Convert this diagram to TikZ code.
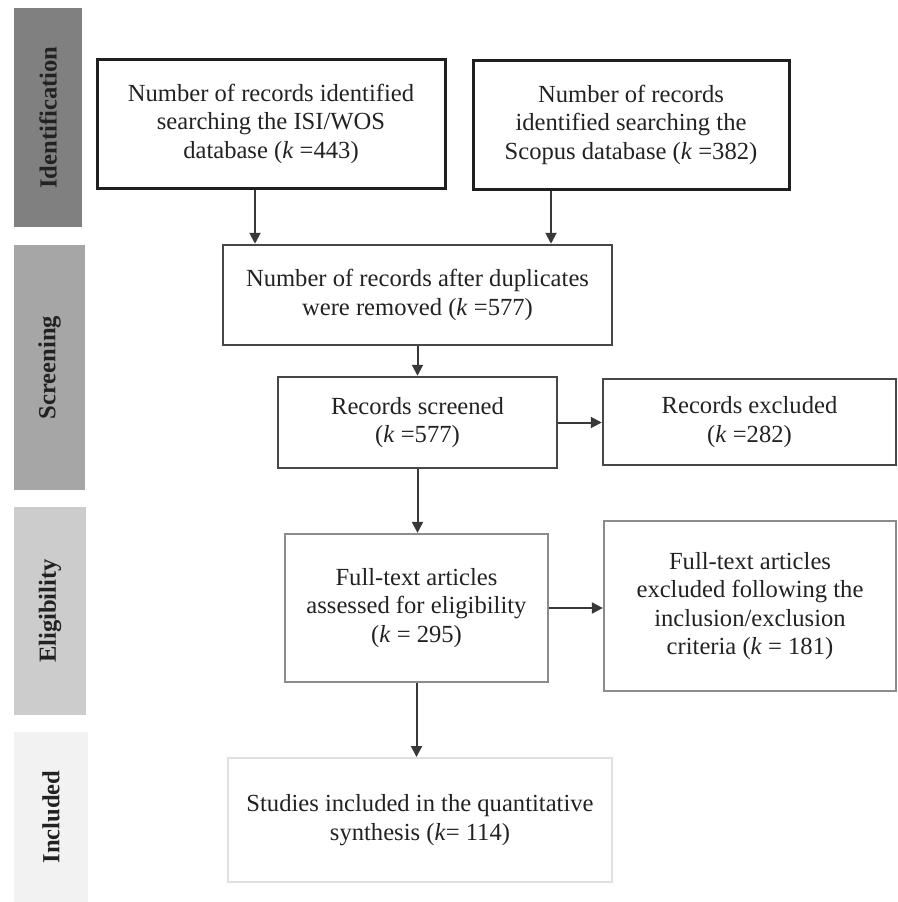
\documentclass[tikz,border=0pt]{standalone}
\usepackage{fontspec}
\setmainfont{Liberation Serif}
\usetikzlibrary{arrows.meta}
\definecolor{phaseone}{RGB}{128,128,128}
\definecolor{phasetwo}{RGB}{166,166,166}
\definecolor{phasethree}{RGB}{204,204,204}
\definecolor{phasefour}{RGB}{242,242,242}
\definecolor{inkdark}{RGB}{34,34,34}

\begin{document}
\begin{tikzpicture}[every node/.style={font=\fontsize{14}{16.2}\selectfont, text=inkdark},
    box/.style={draw, rectangle, align=center, inner sep=2pt},
    arr/.style={-{Triangle[length=0.22cm,width=0.22cm]}, line width=0.04cm, draw=black!78}]
                \useasboundingbox (0,0) rectangle (17.96,-18.04);

                % Phase bars on the left
                \foreach \i/\y/\h/\w/\col/\phase in {1/-2.35/4.38/1.36/phaseone/Identification, 2/-7.35/4.9/1.42/phasetwo/Screening, 3/-12.22/4.16/1.44/phasethree/Eligibility, 4/-16.34/3.4/1.48/phasefour/Included} {
                    \node[fill=\col, rotate=90, minimum width=\h cm, minimum height=\w cm, inner sep=0pt, font=\fontsize{14}{16}\selectfont\bfseries] (bar\i) at (0.28+\w/2, \y) {\phase};
                }

                % Identification
                \node[box, line width=0.06cm, draw=black!88, minimum width=6.96cm, minimum height=2.58cm] (wos) at (5.42, -2.47) {Number of records identified\\searching the ISI/WOS\\database (\textit{k} =443)};
                \node[box, line width=0.06cm, draw=black!88, minimum width=6.32cm, minimum height=2.58cm] (scopus) at (12.62, -2.49) {Number of records\\identified searching the\\Scopus database (\textit{k} =382)};

                % Screening
                \node[box, line width=0.05cm, draw=black!72, minimum width=7.78cm, minimum height=2.0cm] (dupl) at (8.35, -5.90) {Number of records after duplicates\\were removed (\textit{k} =577)};
                \node[box, line width=0.05cm, draw=black!72, minimum width=5.58cm, minimum height=1.82cm] (screened) at (8.35, -8.45) {Records screened\\(\textit{k} =577)};
                \node[box, line width=0.05cm, draw=black!72, minimum width=5.86cm, minimum height=1.72cm] (excl) at (14.99, -8.44) {Records excluded\\(\textit{k} =282)};

                % Eligibility
                \node[box, line width=0.045cm, draw=black!45, minimum width=5.26cm, minimum height=2.96cm] (fulltext) at (8.33, -12.16) {Full-text articles\\assessed for eligibility\\(\textit{k} = 295)};
                \node[box, line width=0.045cm, draw=black!45, minimum width=5.84cm, minimum height=3.4cm] (ftexcl) at (15.00, -12.12) {Full-text articles\\excluded following the\\inclusion/exclusion\\criteria (\textit{k} = 181)};

                % Included
                \node[box, line width=0.04cm, draw=black!12, minimum width=7.68cm, minimum height=2.48cm] (synth) at (8.40, -16.40) {Studies included in the quantitative\\synthesis (\textit{k}= 114)};

                % Arrows
                \draw[arr] ([xshift=-0.32cm]wos.south) -- ([xshift=-0.32cm]wos.south |- dupl.north);
                \draw[arr] ([xshift=-1.6cm]scopus.south) -- ([xshift=-1.6cm]scopus.south |- dupl.north);
                \draw[arr] (dupl.south) -- (screened.north);
                \draw[arr] (screened.east) -- (screened.east -| excl.west);
                \draw[arr] (screened.south) -- (screened.south |- fulltext.north);
                \draw[arr] (fulltext.east) -- (fulltext.east -| ftexcl.west);
                \draw[arr] (fulltext.south) -- (fulltext.south |- synth.north);
            \end{tikzpicture}
\end{document}
